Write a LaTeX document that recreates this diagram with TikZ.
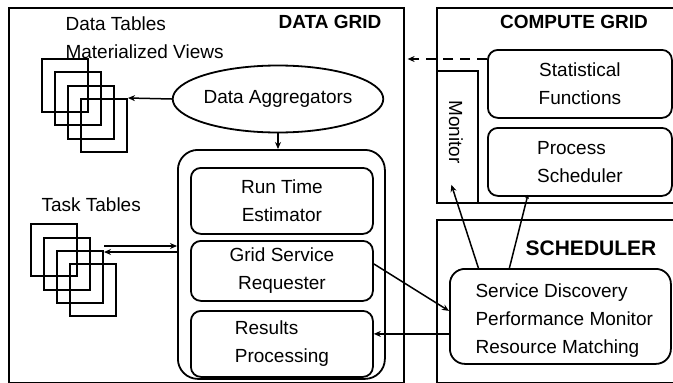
\documentclass[tikz,border=0pt]{standalone}
\usepackage{fontspec}
\setmainfont{Liberation Sans}
\usetikzlibrary{arrows.meta,shapes.geometric}
\begin{document}
\begin{tikzpicture}[x=1pt,y=-1pt,
  lbl/.style={font=\fontsize{19}{28}\selectfont},
  frame/.style={draw,line width=1.6pt,anchor=north west,inner sep=0pt},
  rbox/.style={draw,line width=1.8pt,rounded corners=10pt,anchor=north west,inner sep=0pt,lbl},
  tbl/.style={draw,line width=2pt,anchor=north west,inner sep=0pt,minimum width=46pt,minimum height=53pt},
  arr/.style={line width=1.5pt,-{Stealth[length=7pt,width=6pt]}},
  sarr/.style={line width=1.5pt,-{Stealth[length=4pt,width=4pt]}}]
\useasboundingbox (0,0) rectangle (673,383);
\clip (0,0) rectangle (673,383);
% frames
\node[frame,minimum width=395pt,minimum height=375pt] (datagrid) at (8,7) {};
\node[frame,minimum width=250pt,minimum height=195pt] (computegrid) at (436,7) {};
\node[frame,minimum width=250pt,minimum height=163pt] (schedframe) at (436,219) {};
\node[lbl,font=\fontsize{19}{28}\selectfont\bfseries] (dgt) at (330,22) {DATA GRID};
\node[lbl,font=\fontsize{19}{28}\selectfont\bfseries] (cgt) at (574,22) {COMPUTE GRID};
\node[font=\fontsize{21}{28}\selectfont\bfseries] (sct) at (591,248) {SCHEDULER};
% compute grid content
\node[frame,line width=1.8pt,minimum width=41pt,minimum height=132pt] (monitor) at (436,70) {};
\node[lbl,rotate=-90] (montxt) at (456,132) {Monitor};
\node[rbox,minimum width=184pt,minimum height=68pt,align=center] (stat) at (487,49) {Statistical\\Functions};
\node[rbox,minimum width=184pt,minimum height=68pt,align=left] (proc) at (487,127) {Process\\Scheduler};
% scheduler
\node[rbox,rounded corners=15pt,minimum width=221pt,minimum height=95pt] (sched) at (449,268) {};
\node[lbl,anchor=west,align=left] (schedtxt) at (472,321) {Service Discovery\\Performance Monitor\\Resource Matching};
% data grid content
\node[lbl,anchor=west,align=left] (dttxt) at (62,38) {Data Tables\\Materialized Views};
\node[lbl,anchor=west] (tttxt) at (38,205) {Task Tables};
\node[draw,line width=1.8pt,ellipse,minimum width=190pt,minimum height=67pt,lbl,inner sep=0pt] (agg) at (278,99) {Data Aggregators};
\node[rbox,rounded corners=20pt,minimum width=207pt,minimum height=229pt] (container) at (177,149) {};
\node[rbox,minimum width=182pt,minimum height=66pt,align=center] (rte) at (190,167) {Run Time\\Estimator};
\node[rbox,minimum width=182pt,minimum height=60pt,align=center] (gsr) at (190,240) {Grid Service\\Requester};
\node[rbox,minimum width=182pt,minimum height=66pt,align=left] (rp) at (190,310) {Results\\Processing};
% tables
\node[tbl] (dt1) at (41,58) {};
\node[tbl] (dt2) at (54,71) {};
\node[tbl] (dt3) at (67,85) {};
\node[tbl] (dt4) at (80,98) {};
\node[tbl,minimum height=52pt] (tt1) at (30,223) {};
\node[tbl,minimum height=52pt] (tt2) at (43,237) {};
\node[tbl,minimum height=52pt] (tt3) at (56,250) {};
\node[tbl,minimum height=52pt] (tt4) at (69,263) {};
% connectors
\coordinate (s1) at ([yshift=-10pt]stat.north west);
\draw[arr,dash pattern=on 10pt off 7pt] (s1) -- ([xshift=3pt]s1 -| datagrid.east);
\draw[arr] (agg.west) -- (dt4.north east);
\draw[arr] (agg.south) -- (agg.south |- container.north);
\coordinate (ta) at ([yshift=4pt]tt3.north east);
\coordinate (tb) at ([yshift=-2pt]tt3.north east);
\draw[arr] (ta) -- (ta -| container.west);
\draw[arr] (tb -| container.west) -- (tb);
\coordinate (g1) at ([yshift=7pt]gsr.east);
\draw[arr] (g1) -- ([yshift=5.5pt]sched.west);
\coordinate (r1) at ([yshift=-17.5pt]sched.west);
\draw[arr] (r1) -- (r1 -| rp.east);
\draw[arr] ([xshift=-82pt]sched.north) -- ([xshift=-6pt,yshift=19pt]monitor.south);
\draw[sarr] ([xshift=-51pt]sched.north) -- ([xshift=-52pt,yshift=2pt]proc.south);
\end{tikzpicture}
\end{document}
